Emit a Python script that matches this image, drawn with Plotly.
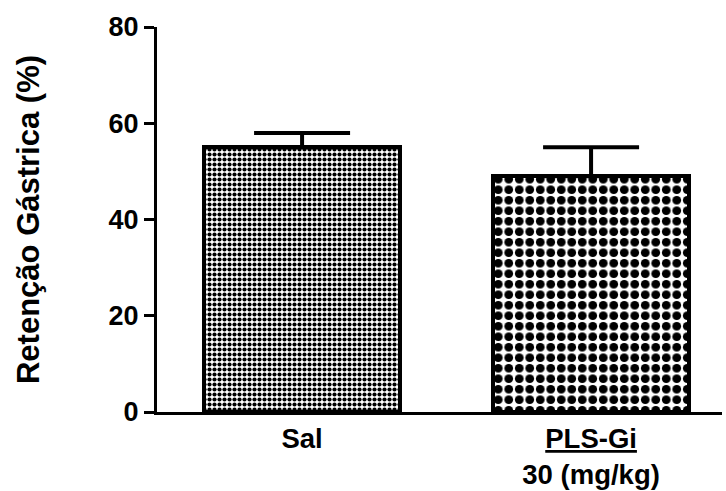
import plotly.graph_objects as go

categories = ["Sal", "PLS-Gi"]
tick_labels = ["Sal", "<u>PLS-Gi</u><br>30 (mg/kg)"]
means = [55, 49]
sem = [3, 6]
y_ticks = [0, 20, 40, 60, 80]

FONT = "Liberation Sans, Arial, sans-serif"

patterns = [
    dict(shape=".", fgcolor="black", bgcolor="white", size=5, solidity=0.55, fillmode="replace"),
    dict(shape=".", fgcolor="black", bgcolor="white", size=10.5, solidity=0.55, fillmode="replace"),
]

xpos = list(range(len(categories)))

fig = go.Figure()
for i, cat in enumerate(categories):
    fig.add_trace(go.Bar(
        x=[xpos[i]], y=[means[i]], name=cat,
        width=0.678,
        marker=dict(color="white", pattern=patterns[i], line=dict(color="black", width=4)),
        error_y=dict(type="data", symmetric=False, array=[sem[i]], arrayminus=[0],
                     color="black", thickness=4, width=48),
        showlegend=False,
    ))

fig.update_layout(
    width=726, height=491,
    margin=dict(l=157, r=4, t=27, b=79),
    paper_bgcolor="white", plot_bgcolor="white",
    font=dict(family=FONT, size=27, color="black", weight="bold"),
    bargap=0,
)
fig.update_xaxes(
    range=[-0.502, 1.453], automargin=False,
    tickvals=xpos, ticktext=tick_labels,
    showline=True, linecolor="black", linewidth=3,
    ticks="", showgrid=False, zeroline=False,
    tickfont=dict(family=FONT, size=27.5, color="black", weight="bold"),
)
fig.update_yaxes(
    range=[0, 80], tickvals=y_ticks, automargin=False,
    showline=True, linecolor="black", linewidth=3,
    ticks="outside", ticklen=10, tickwidth=3, tickcolor="black",
    showgrid=False, zeroline=False,
    tickfont=dict(family=FONT, size=27, color="black", weight="bold"),
    title=dict(text="Retenção Gástrica (%)", standoff=60,
               font=dict(family=FONT, size=31, color="black", weight="bold")),
)

fig.write_html("out.html")
